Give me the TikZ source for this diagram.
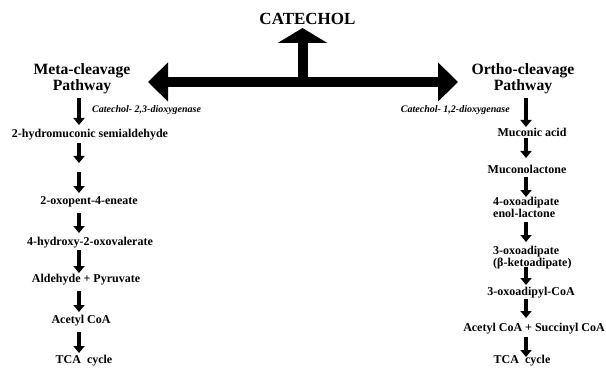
\documentclass[tikz,border=0pt]{standalone}
\usepackage{fontspec}
\setmainfont{Liberation Serif}
\usetikzlibrary{arrows.meta,calc}
\begin{document}
\begin{tikzpicture}[x=1pt,y=-1pt,
  item/.style={font=\fontsize{12}{11.5}\selectfont\bfseries, inner sep=0pt, align=center},
  pathlbl/.style={font=\fontsize{15.7}{16}\selectfont\bfseries, inner sep=0pt, align=center},
  enz/.style={font=\fontsize{10}{12}\selectfont\bfseries\itshape, inner sep=0pt},
  smarr/.style={line width=4.5pt, -{Triangle[width=11pt,length=7pt]}},
  bigarr/.style={line width=10pt}]
\useasboundingbox (0,0) rectangle (606,369);

% top
\node[font=\fontsize{17}{20}\selectfont\bfseries, inner sep=0pt] (catechol) at (307.5,19) {CATECHOL};
\node[pathlbl] (meta) at (82,79) {Meta-cleavage\\Pathway};
\node[pathlbl] (ortho) at (523,79) {Ortho-cleavage\\Pathway};
\coordinate (lt) at (148,82);
\coordinate (rt) at (458,82);
\coordinate (junc) at (302.5,82);
\coordinate (ctip) at (302.5,28);
\draw[bigarr, {Triangle[width=38pt,length=20pt]}-{Triangle[width=38pt,length=20pt]}] (lt) -- (rt);
\draw[bigarr, -{Triangle[width=49pt,length=15pt]}] (junc) -- (ctip);

\node[enz, anchor=west] (enzL) at (92,110) {Catechol- 2,3-dioxygenase};
\node[enz, anchor=east] (enzR) at (510,110) {Catechol- 1,2-dioxygenase};

% left column
\coordinate (L) at (79,0);
\node[item] (t1) at (90,135) {2-hydromuconic semialdehyde};
\node[item] (t2) at (89,202) {2-oxopent-4-eneate};
\node[item] (t3) at (90,243) {4-hydroxy-2-oxovalerate};
\node[item] (t4) at (86,280) {Aldehyde + Pyruvate};
\node[item] (t5) at (81,321) {Acetyl CoA};
\node[item] (t6) at (84,361) {TCA~~cycle};

\draw[smarr] ($(meta.center -| L)+(0,19)$) -- ($(t1.center -| L)+(0,-10)$);
\draw[smarr] ($(t1.center -| L)+(0,8)$) -- ($(t1.center -| L)+(0,28)$);
\draw[smarr] ($(t2.center -| L)+(0,-30)$) -- ($(t2.center -| L)+(0,-9)$);
\draw[smarr] ($(t2.center -| L)+(0,11)$) -- ($(t3.center -| L)+(0,-10)$);
\draw[smarr] ($(t3.center -| L)+(0,7)$) -- ($(t4.center -| L)+(0,-7)$);
\draw[smarr] ($(t4.center -| L)+(0,11)$) -- ($(t5.center -| L)+(0,-9)$);
\draw[smarr] ($(t5.center -| L)+(0,11)$) -- ($(t6.center -| L)+(0,-8)$);

% right column
\coordinate (R) at (526,0);
\node[item] (r1) at (532,132) {Muconic acid};
\node[item] (r2) at (527,169) {Muconolactone};
\node[item, anchor=west, align=left] (r3) at (493,207.5) {4-oxoadipate\\enol-lactone};
\node[item, anchor=west, align=left] (r4) at (493,257.5) {3-oxoadipate\\(β-ketoadipate)};
\node[item] (r5) at (531,293) {3-oxoadipyl-CoA};
\node[item] (r6) at (534,329) {Acetyl CoA + Succinyl CoA};
\node[item] (r7) at (522,361) {TCA~~cycle};

\draw[smarr] ($(ortho.center -| R)+(0,19)$) -- ($(r1.center -| R)+(0,-5)$);
\draw[smarr] ($(r1.center -| R)+(0,6)$) -- ($(r2.center -| R)+(0,-11)$);
\draw[smarr] ($(r2.center -| R)+(0,8)$) -- ($(r3.west -| R)+(0,-10.5)$);
\draw[smarr] ($(r3.west -| R)+(0,14.5)$) -- ($(r4.west -| R)+(0,-15.5)$);
\draw[smarr] ($(r4.west -| R)+(0,9.5)$) -- ($(r5.center -| R)+(0,-8)$);
\draw[smarr] ($(r5.center -| R)+(0,6)$) -- ($(r6.center -| R)+(0,-11)$);
\draw[smarr] ($(r6.center -| R)+(0,8)$) -- ($(r7.center -| R)+(0,-4)$);
\end{tikzpicture}
\end{document}
